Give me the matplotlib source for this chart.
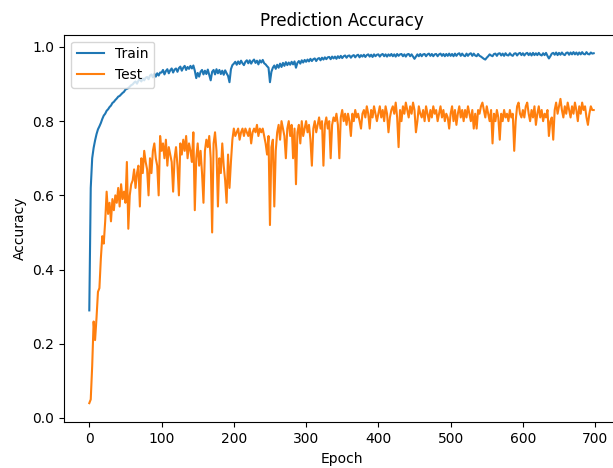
import numpy as np
import matplotlib
matplotlib.use("Agg")
import matplotlib.pyplot as plt

epochs = np.arange(0, 700, 2)

train_acc = [
    0.290, 0.620, 0.700, 0.728, 0.748, 0.765, 0.778, 0.786, 0.795, 0.806,
    0.815, 0.820, 0.828, 0.832, 0.838, 0.842, 0.849, 0.852, 0.857, 0.861,
    0.866, 0.868, 0.872, 0.876, 0.879, 0.885, 0.887, 0.889, 0.893, 0.897,
    0.899, 0.904, 0.907, 0.901, 0.909, 0.913, 0.907, 0.915, 0.910, 0.917,
    0.919, 0.913, 0.923, 0.926, 0.918, 0.928, 0.920, 0.929, 0.923, 0.931,
    0.931, 0.938, 0.926, 0.935, 0.940, 0.929, 0.937, 0.942, 0.931, 0.939,
    0.942, 0.933, 0.943, 0.947, 0.936, 0.944, 0.949, 0.938, 0.946, 0.941,
    0.949, 0.942, 0.950, 0.936, 0.916, 0.930, 0.920, 0.933, 0.938, 0.926,
    0.936, 0.927, 0.939, 0.925, 0.910, 0.933, 0.938, 0.926, 0.940, 0.929,
    0.938, 0.927, 0.936, 0.925, 0.937, 0.929, 0.922, 0.905, 0.940, 0.951,
    0.955, 0.960, 0.952, 0.961, 0.954, 0.963, 0.956, 0.951, 0.960, 0.964,
    0.956, 0.964, 0.955, 0.962, 0.966, 0.957, 0.963, 0.953, 0.964, 0.958,
    0.965, 0.956, 0.953, 0.948, 0.944, 0.905, 0.933, 0.944, 0.950, 0.941,
    0.952, 0.944, 0.955, 0.946, 0.957, 0.949, 0.959, 0.951, 0.958, 0.952,
    0.960, 0.953, 0.961, 0.944, 0.957, 0.962, 0.955, 0.964, 0.958, 0.965,
    0.960, 0.966, 0.961, 0.968, 0.962, 0.967, 0.969, 0.962, 0.968, 0.970,
    0.964, 0.971, 0.966, 0.972, 0.967, 0.972, 0.973, 0.967, 0.974, 0.969,
    0.974, 0.968, 0.975, 0.970, 0.976, 0.970, 0.975, 0.977, 0.971, 0.976,
    0.977, 0.971, 0.976, 0.978, 0.972, 0.977, 0.979, 0.972, 0.978, 0.974,
    0.979, 0.973, 0.978, 0.980, 0.974, 0.979, 0.973, 0.980, 0.975, 0.979,
    0.980, 0.974, 0.979, 0.981, 0.975, 0.980, 0.974, 0.980, 0.976, 0.981,
    0.975, 0.980, 0.974, 0.981, 0.976, 0.980, 0.981, 0.975, 0.980, 0.974,
    0.980, 0.981, 0.975, 0.980, 0.974, 0.968, 0.974, 0.980, 0.975, 0.981,
    0.975, 0.980, 0.981, 0.975, 0.980, 0.982, 0.976, 0.981, 0.975, 0.980,
    0.981, 0.975, 0.980, 0.982, 0.976, 0.981, 0.975, 0.981, 0.976, 0.982,
    0.976, 0.981, 0.975, 0.982, 0.976, 0.981, 0.983, 0.976, 0.982, 0.977,
    0.975, 0.982, 0.976, 0.981, 0.983, 0.976, 0.982, 0.977, 0.975, 0.981,
    0.976, 0.974, 0.971, 0.968, 0.966, 0.971, 0.975, 0.980, 0.977, 0.975,
    0.981, 0.982, 0.976, 0.982, 0.983, 0.977, 0.982, 0.976, 0.983, 0.978,
    0.977, 0.983, 0.978, 0.976, 0.982, 0.983, 0.977, 0.982, 0.984, 0.978,
    0.983, 0.977, 0.982, 0.984, 0.978, 0.983, 0.977, 0.984, 0.978, 0.983,
    0.978, 0.984, 0.979, 0.977, 0.983, 0.978, 0.984, 0.976, 0.969, 0.975,
    0.982, 0.984, 0.979, 0.985, 0.978, 0.984, 0.979, 0.985, 0.980, 0.978,
    0.984, 0.985, 0.979, 0.985, 0.980, 0.986, 0.980, 0.985, 0.979, 0.985,
    0.980, 0.986, 0.981, 0.980, 0.986, 0.981, 0.980, 0.985, 0.982, 0.983,
]

test_acc = [
    0.04, 0.05, 0.14, 0.26, 0.21, 0.27, 0.34, 0.35, 0.43, 0.49,
    0.47, 0.53, 0.61, 0.55, 0.58, 0.53, 0.59, 0.56, 0.60, 0.58,
    0.62, 0.57, 0.63, 0.59, 0.61, 0.58, 0.69, 0.51, 0.60, 0.63,
    0.64, 0.67, 0.62, 0.66, 0.68, 0.57, 0.70, 0.66, 0.72, 0.69,
    0.67, 0.60, 0.70, 0.66, 0.72, 0.74, 0.70, 0.68, 0.60, 0.76,
    0.72, 0.74, 0.70, 0.75, 0.68, 0.73, 0.71, 0.69, 0.61, 0.70,
    0.73, 0.68, 0.60, 0.74, 0.71, 0.75, 0.72, 0.76, 0.70, 0.74,
    0.72, 0.69, 0.77, 0.56, 0.70, 0.74, 0.68, 0.72, 0.66, 0.58,
    0.72, 0.75, 0.73, 0.76, 0.70, 0.50, 0.74, 0.77, 0.72, 0.57,
    0.70, 0.66, 0.74, 0.68, 0.64, 0.58, 0.71, 0.62, 0.69, 0.75,
    0.78, 0.76, 0.77, 0.78, 0.75, 0.77, 0.78, 0.76, 0.78, 0.77,
    0.76, 0.78, 0.74, 0.77, 0.78, 0.77, 0.79, 0.76, 0.78, 0.77,
    0.78, 0.76, 0.74, 0.71, 0.76, 0.52, 0.73, 0.75, 0.57, 0.72,
    0.77, 0.79, 0.75, 0.80, 0.78, 0.76, 0.70, 0.78, 0.80, 0.76,
    0.79, 0.70, 0.78, 0.63, 0.77, 0.79, 0.74, 0.80, 0.76, 0.78,
    0.80, 0.77, 0.79, 0.75, 0.68, 0.78, 0.80, 0.77, 0.79, 0.81,
    0.78, 0.80, 0.68, 0.79, 0.81, 0.78, 0.80, 0.70, 0.79, 0.81,
    0.80, 0.82, 0.79, 0.70, 0.81, 0.83, 0.80, 0.82, 0.79, 0.82,
    0.80, 0.76, 0.82, 0.80, 0.83, 0.81, 0.82, 0.80, 0.78, 0.82,
    0.83, 0.81, 0.84, 0.82, 0.78, 0.83, 0.81, 0.84, 0.82, 0.80,
    0.82, 0.84, 0.81, 0.83, 0.80, 0.84, 0.82, 0.77, 0.81, 0.83,
    0.84, 0.82, 0.85, 0.81, 0.73, 0.83, 0.80, 0.84, 0.82, 0.85,
    0.83, 0.81, 0.84, 0.82, 0.85, 0.83, 0.77, 0.80, 0.84, 0.82,
    0.81, 0.83, 0.80, 0.84, 0.82, 0.80, 0.83, 0.81, 0.84, 0.82,
    0.83, 0.80, 0.82, 0.84, 0.81, 0.83, 0.80, 0.82, 0.81, 0.78,
    0.82, 0.84, 0.80, 0.83, 0.79, 0.82, 0.84, 0.81, 0.83, 0.80,
    0.83, 0.81, 0.84, 0.82, 0.80, 0.83, 0.78, 0.82, 0.78, 0.83,
    0.82, 0.84, 0.85, 0.83, 0.81, 0.84, 0.82, 0.80, 0.83, 0.74,
    0.82, 0.80, 0.83, 0.81, 0.75, 0.82, 0.80, 0.83, 0.81, 0.82,
    0.80, 0.83, 0.81, 0.82, 0.72, 0.80, 0.84, 0.85, 0.82, 0.81,
    0.83, 0.81, 0.84, 0.85, 0.82, 0.80, 0.83, 0.81, 0.84, 0.79,
    0.82, 0.84, 0.81, 0.83, 0.80, 0.82, 0.81, 0.83, 0.76, 0.80,
    0.81, 0.75, 0.83, 0.85, 0.82, 0.84, 0.86, 0.83, 0.81, 0.84,
    0.82, 0.85, 0.83, 0.81, 0.84, 0.82, 0.85, 0.83, 0.80, 0.84,
    0.82, 0.85, 0.83, 0.84, 0.81, 0.79, 0.82, 0.84, 0.83, 0.83,
]

series_labels = ["Train", "Test"]
x_label = "Epoch"
y_label = "Accuracy"
title = "Prediction Accuracy"

W, H = 613, 468
fig = plt.figure(figsize=(W / 100, H / 100), dpi=100)
ax = fig.add_axes([64 / W, (H - 422.3) / H, 555 / W, (422.3 - 34.7) / H])

ax.plot(epochs, train_acc, label=series_labels[0])
ax.plot(epochs, test_acc, label=series_labels[1])

ax.set_xlim(-35, 733)
ax.set_ylim(-0.0116, 1.033)
ax.set_xticks(np.arange(0, 701, 100))
ax.set_yticks(np.arange(0, 1.01, 0.2))
ax.set_title(title)
ax.set_xlabel(x_label)
ax.set_ylabel(y_label)
ax.legend(loc="upper left")

fig.savefig("out.png", dpi=100)
